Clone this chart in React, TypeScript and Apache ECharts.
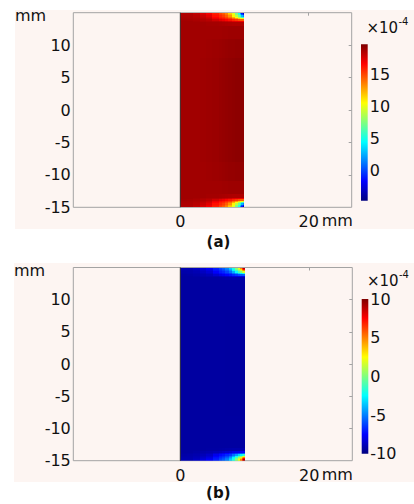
import React, { useEffect, useRef } from 'react';
import * as echarts from 'echarts';

// Geometry of the domain (mm)
const rectX = [0, 10];
const rectY = [-15, 15];

// Axis tick labels
const xTickValues = [0, 20];
const yTickValues = [-15, -10, -5, 0, 5, 10];
const yInnerTicks = [-10, -5, 0, 5, 10];
const cbarTicksA = [0, 5, 10, 15];
const cbarTicksB = [-10, -5, 0, 5, 10];

// Colour ranges (x10^-4)
const rangeA = [-4.84, 19.83];
const rangeB = [-10, 10];

// Sample grid: column edges across x (mm), depth bands from the top/bottom edge (mm)
const colEdges = [0, 1, 2, 3, 4, 5, 6, 6.5, 7, 7.5, 8, 8.5, 9, 9.25, 9.5, 9.75, 10];
const depthEdges = [0, 0.2, 0.4, 0.6, 0.8, 1.0, 1.25, 1.5, 2.0];
const innerDepthEdges = [2, 4, 7, 15];

// (a) values near the edges (rows: depth bands, columns: x cells)
const edgeA = [
  [18.6, 18.6, 18.2, 17.6, 16.9, 16.0, 15.1, 14.5, 13.6, 11.8, 9.8, 7.3, 4.9, 1.6, -1.2, -3.5],
  [18.65, 18.65, 18.35, 17.8, 17.2, 16.2, 15.4, 14.9, 13.9, 12.4, 10.3, 7.7, 5.8, 3.3, 0.2, -1.6],
  [18.7, 18.7, 18.48, 18.05, 17.5, 16.4, 15.8, 15.3, 14.5, 13.2, 10.8, 9.0, 7.0, 5.5, 2.7, 1.5],
  [18.8, 18.75, 18.58, 18.25, 17.8, 16.8, 16.1, 15.8, 15.1, 14.05, 12.5, 10.5, 8.6, 7.6, 5.9, 5.2],
  [18.85, 18.8, 18.7, 18.45, 18.1, 17.2, 16.6, 16.3, 15.8, 15.3, 14.1, 13.0, 11.6, 10.8, 10.2, 9.5],
  [18.95, 18.9, 18.8, 18.65, 18.45, 17.9, 17.4, 17.1, 16.7, 16.3, 15.8, 15.4, 14.9, 14.6, 14.5, 14.3],
  [19.0, 19.0, 18.92, 18.8, 18.7, 18.55, 18.4, 18.2, 18.0, 17.8, 17.4, 17.3, 17.2, 17.1, 17.0, 17.0],
  [19.0, 19.0, 19.0, 19.0, 18.95, 18.95, 18.9, 18.85, 18.8, 18.75, 18.7, 18.7, 18.7, 18.7, 18.7, 18.7],
];
const innerA = [
  [19.0, 19.0, 19.0, 19.0, 19.0, 19.0, 19.0, 19.05, 19.05, 19.1, 19.1, 19.1, 19.1, 19.1, 19.1, 19.1],
  [19.0, 19.0, 19.0, 19.0, 19.05, 19.1, 19.15, 19.2, 19.25, 19.3, 19.3, 19.35, 19.35, 19.35, 19.35, 19.35],
  [19.0, 19.0, 19.0, 19.05, 19.1, 19.15, 19.25, 19.3, 19.35, 19.4, 19.45, 19.5, 19.5, 19.5, 19.5, 19.5],
];

// (b) values near the edges
const edgeB = [
  [-9.0, -9.0, -8.68, -8.19, -7.62, -6.9, -6.17, -5.68, -4.95, -3.49, -1.87, 0.16, 2.1, 4.78, 7.05, 8.91],
  [-9.04, -9.04, -8.8, -8.35, -7.87, -7.06, -6.41, -6.0, -5.19, -3.98, -2.27, -0.17, 1.37, 3.4, 5.91, 7.37],
  [-9.08, -9.08, -8.91, -8.56, -8.11, -7.22, -6.73, -6.33, -5.68, -4.63, -2.68, -1.22, 0.4, 1.62, 3.89, 4.86],
  [-9.16, -9.12, -8.99, -8.72, -8.35, -7.54, -6.98, -6.73, -6.17, -5.31, -4.06, -2.44, -0.9, -0.09, 1.29, 1.86],
  [-9.21, -9.16, -9.08, -8.88, -8.6, -7.87, -7.38, -7.14, -6.73, -6.33, -5.35, -4.46, -3.33, -2.68, -2.19, -1.63],
  [-9.29, -9.25, -9.16, -9.04, -8.88, -8.44, -8.03, -7.79, -7.46, -7.14, -6.73, -6.41, -6.0, -5.76, -5.68, -5.52],
  [-9.33, -9.33, -9.26, -9.16, -9.08, -8.96, -8.84, -8.68, -8.52, -8.35, -8.03, -7.95, -7.87, -7.79, -7.71, -7.71],
  [-9.33, -9.33, -9.33, -9.33, -9.29, -9.29, -9.25, -9.21, -9.16, -9.12, -9.08, -9.08, -9.08, -9.08, -9.08, -9.08],
];
const innerB = [
  [-9.33, -9.33, -9.33, -9.33, -9.33, -9.33, -9.33, -9.33, -9.33, -9.33, -9.33, -9.33, -9.33, -9.33, -9.33, -9.33],
  [-9.33, -9.33, -9.33, -9.33, -9.33, -9.33, -9.33, -9.33, -9.33, -9.33, -9.33, -9.33, -9.33, -9.33, -9.33, -9.33],
  [-9.33, -9.33, -9.33, -9.33, -9.33, -9.33, -9.34, -9.34, -9.35, -9.35, -9.35, -9.35, -9.35, -9.35, -9.35, -9.35],
];

const JET = ['#00007f', '#0000ff', '#007fff', '#00ffff', '#7fff7f', '#ffff00', '#ff7f00', '#ff0000', '#7f0000'];
const PINK = '#fdf5f2';
const FONT = 'DejaVu Sans';

function buildCells(edge: number[][], inner: number[][]) {
  const out: number[][] = [];
  const add = (d0: number, d1: number, row: number[]) => {
    for (let i = 0; i < colEdges.length - 1; i++) {
      const v = row[i];
      out.push([colEdges[i], colEdges[i + 1], rectY[1] - d1, rectY[1] - d0, v]);
      out.push([colEdges[i], colEdges[i + 1], rectY[0] + d0, rectY[0] + d1, v]);
    }
  };
  edge.forEach((row, j) => add(depthEdges[j], depthEdges[j + 1], row));
  inner.forEach((row, j) => add(innerDepthEdges[j], innerDepthEdges[j + 1], row));
  return out;
}

const renderCell = (_params: any, api: any) => {
  const a = api.coord([api.value(0), api.value(3)]);
  const b = api.coord([api.value(1), api.value(2)]);
  const x0 = Math.round(a[0]);
  const x1 = Math.round(b[0]);
  const y0 = Math.round(a[1]);
  const y1 = Math.round(b[1]);
  const c = api.visual('color');
  return {
    type: 'rect',
    shape: { x: x0, y: y0, width: x1 - x0, height: y1 - y0 },
    style: { fill: c },
  };
};

const labelText = { fontFamily: FONT, fontSize: 16, color: '#111' };

export default function App() {
  const ref = useRef<HTMLDivElement>(null);
  useEffect(() => {
    if (!ref.current) return;
    const chart = echarts.init(ref.current, null, { renderer: 'svg' });

    const plotA = { left: 73.3, top: 12.7, width: 278.4, height: 194.6 };
    const cbarA = { left: 361, top: 44.3, width: 6.7, height: 156.4 };
    const plotB = { left: 73.3, top: 267.5, width: 279, height: 193.2 };
    const cbarB = { left: 361.7, top: 299, width: 6.6, height: 154.7 };

    const gridOf = (g: any, border: boolean) => ({
      ...g,
      show: border,
      borderColor: '#a3a3a3',
      borderWidth: 1,
      backgroundColor: 'transparent',
      containLabel: false,
      outerBoundsMode: 'none',
    });

    const plotX = (gridIndex: number, min: number, max: number) => [
      {
        type: 'value', gridIndex, min, max, position: 'bottom',
        axisLine: { show: false, onZero: false }, axisTick: { show: false }, splitLine: { show: false },
        axisLabel: { ...labelText, margin: 6.5, customValues: xTickValues },
      },
      {
        type: 'value', gridIndex, min, max, position: 'top',
        axisLine: { show: false, onZero: false }, splitLine: { show: false }, axisLabel: { show: false },
        axisTick: { show: true, inside: true, length: 3, customValues: xTickValues, lineStyle: { color: '#a3a3a3' } },
      },
    ];
    const plotY = (gridIndex: number) => [
      {
        type: 'value', gridIndex, min: rectY[0], max: rectY[1], position: 'left',
        axisLine: { show: false, onZero: false }, axisTick: { show: false }, splitLine: { show: false },
        axisLabel: { ...labelText, margin: 2.5, customValues: yTickValues },
      },
      {
        type: 'value', gridIndex, min: rectY[0], max: rectY[1], position: 'right',
        axisLine: { show: false, onZero: false }, splitLine: { show: false }, axisLabel: { show: false },
        axisTick: { show: true, inside: true, length: 3, customValues: yInnerTicks, lineStyle: { color: '#a3a3a3' } },
      },
    ];
    const cbarX = (gridIndex: number) => ({ type: 'value', gridIndex, min: 0, max: 1, show: false, axisLine: { onZero: false } });
    const cbarY = (gridIndex: number, range: number[], ticks: number[]) => ({
      type: 'value', gridIndex, min: range[0], max: range[1], position: 'right',
      axisLine: { show: false, onZero: false }, axisTick: { show: false }, splitLine: { show: false },
      axisLabel: { ...labelText, margin: 2, customValues: ticks },
    });

    const gradient = () =>
      new echarts.graphic.LinearGradient(0, 1, 0, 0, JET.map((c, i) => ({ offset: i / (JET.length - 1), color: c })));

    const txt = (text: string, x: number, y: number, font: string, align = 'left') => ({
      type: 'text', x, y, z: 20, silent: true,
      style: { text, font, fill: '#111', textAlign: align, align, textVerticalAlign: 'middle', verticalAlign: 'middle' },
    });
    const f16 = `16px "${FONT}"`;
    const f15 = `15px "${FONT}"`;
    const f10 = `10px "${FONT}"`;
    const fb = `bold 15px "${FONT}"`;

    const option: any = {
      animation: false,
      backgroundColor: '#ffffff',
      grid: [gridOf(plotA, true), gridOf(cbarA, false), gridOf(plotB, true), gridOf(cbarB, false)],
      xAxis: [
        ...plotX(0, -16.67, 26.7),
        cbarX(1),
        ...plotX(2, -16.59, 26.67),
        cbarX(3),
      ],
      yAxis: [
        ...plotY(0),
        cbarY(1, rangeA, cbarTicksA),
        ...plotY(2),
        cbarY(3, rangeB, cbarTicksB),
      ],
      visualMap: [
        { type: 'continuous', show: false, seriesIndex: 0, dimension: 4, min: rangeA[0], max: rangeA[1], inRange: { color: JET } },
        { type: 'continuous', show: false, seriesIndex: 2, dimension: 4, min: rangeB[0], max: rangeB[1], inRange: { color: JET } },
      ],
      series: [
        {
          type: 'custom', xAxisIndex: 0, yAxisIndex: 0, data: buildCells(edgeA, innerA),
          encode: { x: [0, 1], y: [2, 3] }, renderItem: renderCell, clip: true, silent: true, z: 2,
        },
        {
          type: 'line', xAxisIndex: 0, yAxisIndex: 0, data: [[rectX[0], rectY[0]], [rectX[0], rectY[1]]],
          symbol: 'none', silent: true, lineStyle: { color: '#3a3a3a', width: 1 }, z: 3,
        },
        {
          type: 'custom', xAxisIndex: 3, yAxisIndex: 3, data: buildCells(edgeB, innerB),
          encode: { x: [0, 1], y: [2, 3] }, renderItem: renderCell, clip: true, silent: true, z: 2,
        },
        {
          type: 'line', xAxisIndex: 3, yAxisIndex: 3, data: [[rectX[0], rectY[0]], [rectX[0], rectY[1]]],
          symbol: 'none', silent: true, lineStyle: { color: '#3a3a3a', width: 1 }, z: 3,
        },
      ],
      graphic: [
        { type: 'rect', z: -10, silent: true, shape: { x: 15, y: 10, width: 399, height: 219 }, style: { fill: PINK } },
        { type: 'rect', z: -10, silent: true, shape: { x: 14, y: 263, width: 400, height: 219 }, style: { fill: PINK } },
        { type: 'rect', z: 10, silent: true, shape: { x: cbarA.left, y: cbarA.top, width: cbarA.width, height: cbarA.height }, style: { fill: gradient() } },
        { type: 'rect', z: 10, silent: true, shape: { x: cbarB.left, y: cbarB.top, width: cbarB.width, height: cbarB.height }, style: { fill: gradient() } },
        txt('mm', 15, 15.5, f16),
        txt('mm', 321.7, 220.5, f16),
        txt('(a)', 218.5, 241.7, fb, 'center'),
        txt('×10', 366.5, 27.5, f15),
        txt('-4', 398.5, 21, f10),
        txt('mm', 14, 270.5, f16),
        txt('mm', 321.7, 474.5, f16),
        txt('(b)', 218.3, 492.8, fb, 'center'),
        txt('×10', 367, 281, f15),
        txt('-4', 399, 274.5, f10),
      ],
    };
    chart.setOption(option);
    return () => chart.dispose();
  }, []);
  return <div ref={ref} style={{ position: 'fixed', left: 0, top: 0, width: 414, height: 504 }} />;
}
